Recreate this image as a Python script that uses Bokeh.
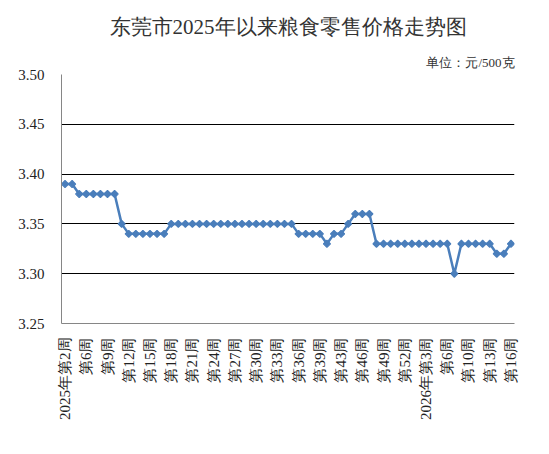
import math
from bokeh.plotting import figure
from bokeh.models import FixedTicker, Title, NumeralTickFormatter, Range1d
from bokeh.embed import file_html
from bokeh.resources import INLINE

# ---- data ----
years = [2025] * 49 + [2026] * 15
weeks = [2, 3, 4] + list(range(6, 40)) + list(range(41, 53)) + \
        [1, 2, 3, 4, 5, 6, 7, 9, 10, 11, 12, 13, 14, 15, 16]
prices = [3.39, 3.39,
          3.38, 3.38, 3.38, 3.38, 3.38, 3.38,
          3.35,
          3.34, 3.34, 3.34, 3.34, 3.34, 3.34,
          3.35, 3.35, 3.35, 3.35, 3.35, 3.35, 3.35, 3.35, 3.35,
          3.35, 3.35, 3.35, 3.35, 3.35, 3.35, 3.35, 3.35, 3.35,
          3.34, 3.34, 3.34, 3.34,
          3.33,
          3.34, 3.34,
          3.35,
          3.36, 3.36, 3.36,
          3.33, 3.33, 3.33, 3.33, 3.33, 3.33, 3.33, 3.33, 3.33, 3.33, 3.33,
          3.30,
          3.33, 3.33, 3.33, 3.33, 3.33,
          3.32, 3.32,
          3.33]
tick_labels = ["2025年第2周", "第6周", "第9周", "第12周", "第15周", "第18周",
               "第21周", "第24周", "第27周", "第30周", "第33周", "第36周",
               "第39周", "第43周", "第46周", "第49周", "第52周", "2026年第3周",
               "第6周", "第10周", "第13周", "第16周"]
y_ticks = [3.25, 3.30, 3.35, 3.40, 3.45, 3.50]

title_text = "东莞市2025年以来粮食零售价格走势图"
unit_text = "单位：元/500克"

FONT = "Liberation Serif"

x = list(range(len(prices)))

p = figure(width=549, height=454, output_backend="svg", toolbar_location=None,
           x_range=Range1d(-0.5, len(prices) - 0.5), y_range=Range1d(3.25, 3.50),
           min_border_left=61, min_border_right=35, min_border_top=74,
           min_border_bottom=131, title=title_text)

p.title.align = "center"
p.title.offset = -15
p.title.standoff = 18
p.title.text_font = FONT
p.title.text_font_size = "21px"
p.title.text_font_style = "normal"
p.title.text_color = "#333333"

p.add_layout(Title(text=unit_text, align="right", text_font=FONT,
                   text_font_size="13px", text_font_style="normal",
                   text_color="#333333"), "above")

p.outline_line_color = None
p.background_fill_color = "white"

p.line(x, prices, line_color="#4A7EBB", line_width=2.5)
p.scatter(x, prices, marker="square", angle=0.785398, size=5,
          fill_color="#4A7EBB", line_color="#4A7EBB", line_width=1.2)

# x axis
xa = p.xaxis[0]
xa.ticker = FixedTicker(ticks=x[::3])
xa.major_label_overrides = {i: lab for i, lab in zip(x[::3], tick_labels)}
xa.major_label_orientation = math.pi / 2
xa.major_label_text_font = FONT
xa.major_label_text_font_size = "15px"
xa.major_label_text_color = "#222222"
xa.axis_line_color = "#868686"
xa.major_tick_line_color = None
xa.minor_tick_line_color = None
xa.major_label_standoff = 8

ya = p.yaxis[0]
ya.ticker = FixedTicker(ticks=y_ticks)
ya.formatter = NumeralTickFormatter(format="0.00")
ya.major_label_text_font = FONT
ya.major_label_text_font_size = "15px"
ya.major_label_text_color = "#222222"
ya.axis_line_color = "#868686"
ya.major_tick_line_color = None
ya.minor_tick_line_color = None
ya.major_label_standoff = 11

p.xgrid.grid_line_color = None
p.ygrid.ticker = FixedTicker(ticks=y_ticks[1:])
p.ygrid.grid_line_color = "black"
p.ygrid.grid_line_width = 1

open("out.html", "w").write(file_html(p, INLINE))
